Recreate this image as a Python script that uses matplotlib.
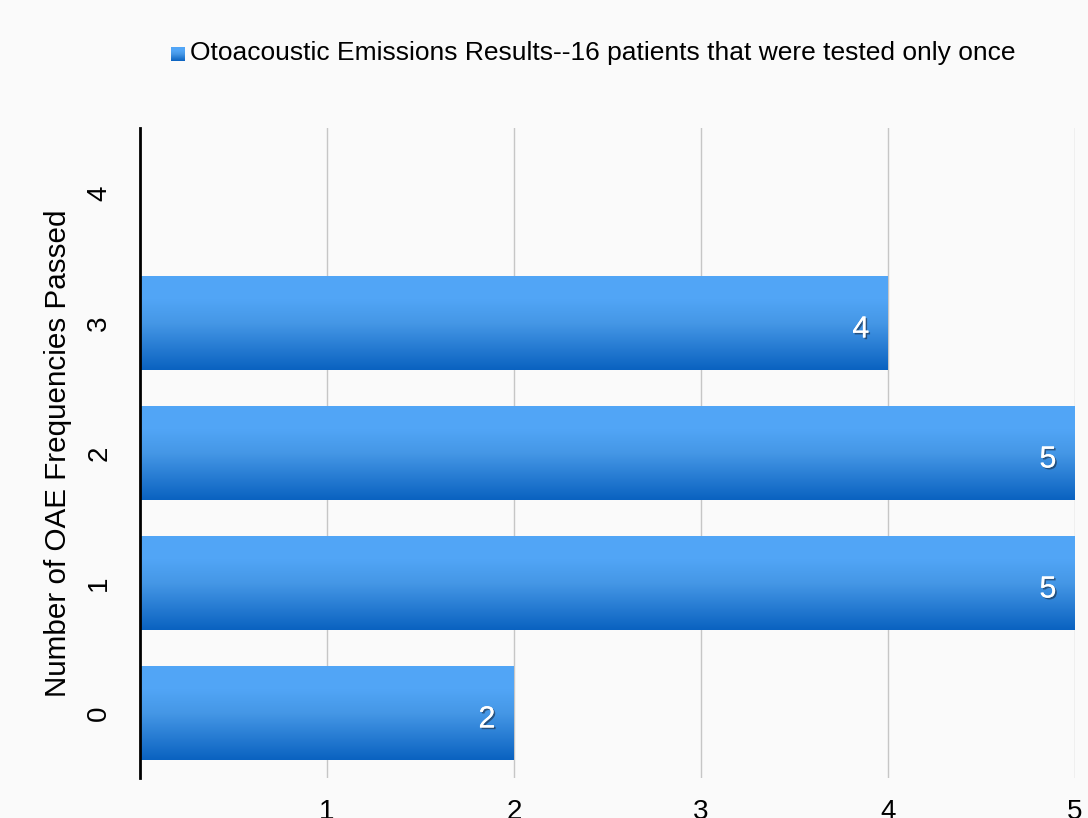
import numpy as np
import matplotlib
matplotlib.use("Agg")
import matplotlib.pyplot as plt
from matplotlib import patheffects
from matplotlib.colors import LinearSegmentedColormap

plt.rcParams['font.family'] = ['Liberation Sans', 'DejaVu Sans']

categories = [0, 1, 2, 3, 4]
patients = [2, 5, 5, 4, 0]
x_ticks = [1, 2, 3, 4, 5]
series_name = "Otoacoustic Emissions Results--16 patients that were tested only once"
y_title = "Number of OAE Frequencies Passed"

bg = "#fafafa"
grad = LinearSegmentedColormap.from_list(
    "blue_grad", [(0.0, "#0a62c0"), (0.5, "#4597e6"), (0.75, "#51a5f6"), (1.0, "#52a6f7")])

fig = plt.figure(figsize=(10.88, 8.18), dpi=100, facecolor=bg)
ax = fig.add_axes([140 / 1088, 1 - 778 / 818, (1075 - 140) / 1088, (778 - 128) / 818])
ax.set_facecolor(bg)

bars = ax.barh(categories, patients, height=0.72, color="none", zorder=3)

gradient = np.linspace(0, 1, 256).reshape(-1, 1)
for bar, v in zip(bars, patients):
    if v <= 0:
        continue
    x0, y0 = bar.get_x(), bar.get_y()
    w, h = bar.get_width(), bar.get_height()
    ax.imshow(gradient, cmap=grad, origin="lower", aspect="auto",
              extent=(x0, x0 + w, y0, y0 + h), zorder=3, interpolation="bilinear")
    ax.text(x0 + w - 0.1, y0 + h / 2 - 0.05, f"{v}", ha="right", va="center",
            color="white", fontsize=22, zorder=5,
            path_effects=[patheffects.withSimplePatchShadow(offset=(1.2, -1.2),
                                                            shadow_rgbFace="#1a2a40", alpha=0.6),
                          patheffects.Normal()])

ax.set_xlim(0, 5)
ax.set_ylim(-0.5, 4.5)
ax.set_xticks(x_ticks)
ax.set_xticklabels([str(t) for t in x_ticks])
ax.set_yticks(categories)
ax.set_yticklabels([str(c) for c in categories], rotation=90, va="center")
ax.tick_params(axis="both", length=0, labelsize=20, colors="black")
ax.tick_params(axis="x", pad=15)
ax.tick_params(axis="y", pad=20)
ax.grid(axis="x", color="#c6c6c6", linewidth=1.0, zorder=1)
ax.set_axisbelow(True)
for side in ("top", "right", "bottom"):
    ax.spines[side].set_visible(False)
ax.spines["left"].set_linewidth(2.0)
ax.spines["left"].set_color("black")
ax.spines["left"].set_zorder(6)

ax.set_ylabel(y_title, fontsize=21.3, labelpad=10)

# legend with gradient swatch
fig.text(190 / 1088, 1 - 53 / 818, series_name, fontsize=19, ha="left", va="center")
lax = fig.add_axes([171 / 1088, 1 - 61 / 818, 14 / 1088, 14 / 818])
lax.imshow(gradient, cmap=grad, origin="lower", aspect="auto", extent=(0, 1, 0, 1))
lax.set_axis_off()

fig.savefig("out.png", dpi=100, facecolor=bg)
